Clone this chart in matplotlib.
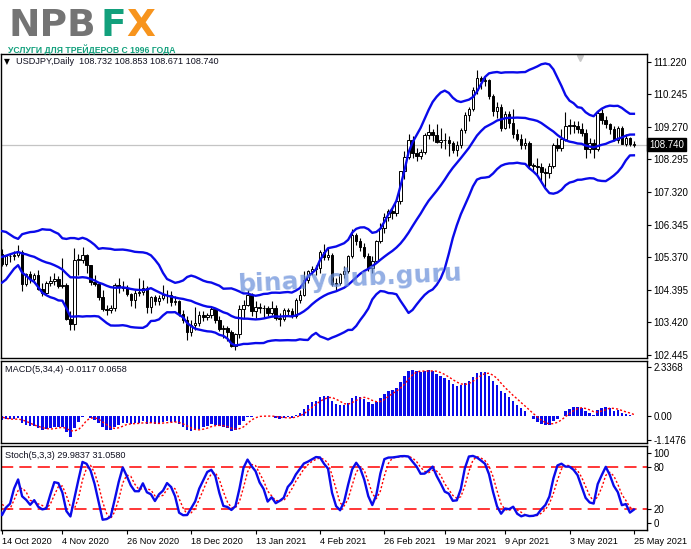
import numpy as np
import pandas as pd
import matplotlib
matplotlib.use('Agg')
import matplotlib.pyplot as plt

plt.rcParams['font.family'] = ['Liberation Sans', 'DejaVu Sans']

# USDJPY daily bars. The first 31 (1 Sep - 13 Oct 2020) lie left of the
# visible window and only warm up the indicators.
n_hidden = 31

opens = [
    # Sep / early Oct 2020 (hidden)
    105.90, 105.97, 106.18, 106.17, 106.24, 106.27, 106.00, 106.08, 106.15, 106.15, 105.74,
    105.43, 104.93, 104.73, 104.55, 104.68, 104.93, 105.39, 105.41, 105.58, 105.48, 105.69,
    105.46, 105.53, 105.31, 105.72, 105.67, 105.97, 105.95, 105.61, 105.31,
    # Oct
    105.48, 105.16, 105.42, 105.40, 105.45, 105.52, 104.56, 104.86, 104.72, 104.84, 104.43, 104.30, 104.61,
    # Nov
    104.66, 104.73, 104.52, 104.53, 103.52, 103.36, 105.30, 105.30, 105.43, 105.13, 104.62,
    104.57, 104.18, 103.81, 103.78, 103.86, 104.53, 104.47, 104.45, 104.26, 104.08,
    # Dec
    104.30, 104.34, 104.44, 103.87, 104.17, 104.05, 104.15, 104.24, 104.25, 104.02, 104.05,
    103.66, 103.48, 103.13, 103.35, 103.40, 103.63, 103.58, 103.65, 103.81, 103.50, 103.22,
    # Jan 2021
    103.24, 103.12, 102.71, 103.07, 103.82, 103.94, 104.25, 103.75, 103.88, 103.84,
    103.86, 103.70, 103.86, 103.55, 103.51, 103.78, 103.77, 103.60, 104.09, 104.25,
    # Feb
    104.68, 104.95, 105.02, 105.04, 105.53, 105.38, 105.45, 104.57, 104.59, 104.87,
    104.95, 105.42, 106.03, 105.85, 105.69, 105.42, 105.05, 105.25, 105.86, 106.24,
    # Mar
    106.57, 106.75, 106.69, 107.04, 107.95, 108.38, 108.89, 108.50, 108.39, 108.51, 109.02, 109.13,
    109.04, 108.81, 108.87, 108.88, 108.79, 108.57, 108.73, 109.19, 109.63, 109.80, 110.37,
    # Apr
    110.72, 110.63, 110.68, 110.20, 109.75, 109.86, 109.25, 109.65, 109.39, 109.07, 108.92,
    108.73, 108.80, 108.13, 108.10, 108.08, 107.93, 107.89, 108.10, 108.72, 108.63, 108.91,
    # May
    109.31, 109.34, 109.31, 109.20, 109.08, 108.60, 108.78, 108.60, 109.67,
    109.48, 109.35, 109.21, 108.89, 109.23, 108.77, 108.94, 108.732,
]
highs = [
    106.05, 106.25, 106.55, 106.50, 106.38, 106.37, 106.20, 106.23, 106.20, 106.18, 105.85,
    105.50, 105.00, 104.88, 104.72, 105.00, 105.48, 105.55, 105.70, 105.70, 105.80, 105.80,
    105.70, 105.68, 105.80, 105.80, 106.05, 106.11, 106.00, 105.65, 105.52,
    105.62, 105.45, 105.50, 105.55, 105.75, 105.60, 104.90, 104.95, 104.90, 105.00, 104.60, 104.65, 104.80,
    104.90, 104.80, 105.35, 104.60, 103.75, 105.65, 105.48, 105.68, 105.48, 105.15, 104.85,
    104.60, 104.40, 103.95, 103.93, 104.60, 104.75, 104.65, 104.55, 104.30, 104.40,
    104.75, 104.70, 104.50, 104.20, 104.25, 104.25, 104.55, 104.40, 104.35, 104.20, 104.10,
    103.80, 103.60, 103.50, 103.88, 103.75, 103.75, 103.70, 103.90, 103.85, 103.60, 103.35,
    103.30, 103.20, 103.10, 103.95, 104.10, 104.40, 104.30, 104.05, 104.00, 103.95,
    103.90, 104.05, 103.95, 103.70, 103.85, 103.85, 103.85, 104.15, 104.40, 104.95,
    105.00, 105.10, 105.15, 105.60, 105.77, 105.65, 105.50, 104.75, 104.90, 105.10,
    105.45, 106.22, 106.10, 105.95, 105.80, 105.50, 105.40, 105.90, 106.40, 106.70,
    106.80, 106.85, 107.10, 107.95, 108.55, 109.05, 109.00, 108.65, 108.60, 109.08, 109.35, 109.20,
    109.35, 109.25, 109.10, 109.00, 108.85, 108.85, 109.25, 109.70, 109.85, 110.45, 110.97,
    110.80, 110.75, 110.70, 110.25, 110.00, 109.95, 109.75, 109.75, 109.80, 109.20, 109.05,
    108.95, 108.85, 108.20, 108.35, 108.20, 108.05, 108.20, 108.80, 108.95, 109.20, 109.70,
    109.50, 109.45, 109.45, 109.40, 109.20, 108.95, 108.90, 109.75, 109.80,
    109.60, 109.40, 109.30, 109.30, 109.30, 109.05, 108.98, 108.853,
]
lows = [
    105.60, 105.85, 106.05, 106.05, 106.16, 105.90, 105.90, 105.95, 106.03, 105.70, 105.35,
    104.85, 104.52, 104.50, 104.00, 104.60, 104.85, 105.20, 105.30, 105.30, 105.40, 105.40,
    105.35, 104.94, 105.25, 105.50, 105.55, 105.87, 105.55, 105.30, 105.25,
    105.10, 105.10, 105.22, 105.30, 105.38, 104.35, 104.50, 104.60, 104.60, 104.40, 104.20, 104.25, 104.50,
    104.55, 104.45, 104.45, 103.50, 103.18, 103.20, 104.85, 105.20, 104.90, 104.55, 104.50,
    104.10, 103.75, 103.65, 103.70, 103.75, 104.30, 104.35, 104.20, 103.90, 103.85,
    104.20, 104.25, 103.70, 103.70, 103.95, 103.95, 104.10, 104.00, 103.90, 103.95, 103.60,
    103.40, 102.88, 103.00, 103.20, 103.30, 103.45, 103.50, 103.55, 103.40, 103.15, 102.95,
    102.85, 102.68, 102.59, 102.95, 103.55, 103.90, 103.60, 103.55, 103.70, 103.55,
    103.60, 103.65, 103.50, 103.30, 103.45, 103.60, 103.55, 103.55, 104.00, 104.20,
    104.60, 104.85, 104.85, 104.90, 105.30, 105.30, 104.50, 104.40, 104.55, 104.75,
    104.90, 105.35, 105.75, 105.55, 105.35, 104.95, 104.90, 105.20, 105.80, 106.10,
    106.45, 106.50, 106.60, 106.95, 107.70, 108.30, 108.35, 108.25, 108.30, 108.45, 108.90, 108.85,
    108.80, 108.65, 108.60, 108.40, 108.50, 108.40, 108.65, 109.10, 109.45, 109.75, 110.25,
    110.40, 110.50, 110.10, 109.60, 109.55, 109.15, 109.20, 109.25, 108.95, 108.85, 108.60,
    108.60, 108.05, 107.95, 107.80, 107.60, 107.48, 107.75, 108.05, 108.55, 108.55, 108.85,
    109.05, 109.10, 109.10, 109.00, 108.35, 108.50, 108.35, 108.55, 109.35,
    109.25, 109.05, 108.85, 108.80, 108.75, 108.70, 108.70, 108.671,
]
closes = [
    105.97, 106.18, 106.17, 106.24, 106.27, 106.00, 106.08, 106.15, 106.15, 105.74, 105.43,
    104.93, 104.73, 104.55, 104.68, 104.93, 105.39, 105.41, 105.58, 105.48, 105.69, 105.46,
    105.53, 105.31, 105.72, 105.67, 105.97, 105.95, 105.61, 105.31, 105.48,
    105.16, 105.42, 105.40, 105.45, 105.52, 104.56, 104.86, 104.72, 104.84, 104.43, 104.30, 104.61, 104.66,
    104.73, 104.52, 104.53, 103.52, 103.36, 105.30, 105.30, 105.43, 105.13, 104.62, 104.57,
    104.18, 103.81, 103.78, 103.86, 104.53, 104.47, 104.45, 104.26, 104.08, 104.30,
    104.34, 104.44, 103.87, 104.17, 104.05, 104.15, 104.24, 104.25, 104.02, 104.05, 103.66,
    103.48, 103.13, 103.35, 103.40, 103.63, 103.58, 103.65, 103.81, 103.50, 103.22, 103.24,
    103.12, 102.71, 103.07, 103.82, 103.94, 104.25, 103.75, 103.88, 103.84, 103.86,
    103.70, 103.86, 103.55, 103.51, 103.78, 103.77, 103.60, 104.09, 104.25, 104.68,
    104.95, 105.02, 105.04, 105.53, 105.38, 105.45, 104.57, 104.59, 104.87, 104.95,
    105.42, 106.03, 105.85, 105.69, 105.42, 105.05, 105.25, 105.86, 106.24, 106.57,
    106.75, 106.69, 107.04, 107.95, 108.38, 108.89, 108.50, 108.39, 108.51, 109.02, 109.13, 109.04,
    108.81, 108.87, 108.88, 108.79, 108.57, 108.73, 109.19, 109.63, 109.80, 110.37, 110.72,
    110.63, 110.68, 110.20, 109.75, 109.86, 109.25, 109.65, 109.39, 109.07, 108.92, 108.73,
    108.80, 108.13, 108.10, 108.08, 107.93, 107.89, 108.10, 108.72, 108.63, 108.91, 109.31,
    109.34, 109.31, 109.20, 109.08, 108.60, 108.78, 108.60, 109.67, 109.48,
    109.35, 109.21, 108.89, 109.23, 108.77, 108.94, 108.76, 108.740,
]

date_labels = ['14 Oct 2020', '4 Nov 2020', '26 Nov 2020', '18 Dec 2020', '13 Jan 2021',
               '4 Feb 2021', '26 Feb 2021', '19 Mar 2021', '9 Apr 2021', '3 May 2021', '25 May 2021']
date_idx = [0, 15, 31, 47, 63, 79, 95, 110, 125, 141, 157]
price_ticks = [111.220, 110.245, 109.270, 108.295, 107.320, 106.345, 105.370, 104.395, 103.420, 102.445]
macd_ticks = [2.3368, 0.0, -1.1476]
stoch_ticks = [100, 80, 20, 0]
stoch_levels = [80, 20]
last_price = 108.740

df = pd.DataFrame({'open': opens, 'high': highs, 'low': lows, 'close': closes})
df['x'] = np.arange(len(df)) - n_hidden

# Bollinger(20, 2)
mid = df['close'].rolling(20).mean()
sd = df['close'].rolling(20).std(ddof=0)
upper = mid + 2 * sd
lower = mid - 2 * sd

# MACD(5,34,4): main line as histogram, SMA signal
ema_fast = df['close'].ewm(span=5, adjust=False).mean()
ema_slow = df['close'].ewm(span=34, adjust=False).mean()
macd = ema_fast - ema_slow
signal = macd.rolling(4).mean()

# Stochastic(5,3,3)
ll = df['low'].rolling(5).min()
hh = df['high'].rolling(5).max()
k = (df['close'] - ll).rolling(3).sum() / (hh - ll).rolling(3).sum() * 100
d = k.rolling(3).mean()

W, H = 691, 549
fig = plt.figure(figsize=(W / 100, H / 100), dpi=100)


def box(top, bottom, left=1, right=647):
    return [left / W, 1 - bottom / H, (right - left) / W, (bottom - top) / H]


ax = fig.add_axes(box(54, 358))
ax_macd = fig.add_axes(box(361, 443), sharex=ax)
ax_st = fig.add_axes(box(446, 530), sharex=ax)

blue = '#0a0aea'

# candles
up = df['close'] >= df['open']
ax.vlines(df['x'], df['low'], df['high'], color='black', lw=0.8, zorder=2)
body = (df['close'] - df['open']).abs().clip(lower=0.012)
bottom = df[['open', 'close']].min(axis=1)
ax.bar(df['x'], body, bottom=bottom, width=0.62,
       color=np.where(up, 'white', 'black'), edgecolor='black', linewidth=0.7, zorder=3)

for band in (upper, mid, lower):
    ax.plot(df['x'], band, color=blue, lw=1.7, zorder=4)

ax.axhline(last_price, color='#c4c4c4', lw=0.9, zorder=1)
ax.set_ylim(102.355, 111.45)
ax.set_yticks(price_ticks)
ax.set_yticklabels([f'{t:.3f}' for t in price_ticks])
ax.text(1.003, last_price, f'{last_price:.3f}', transform=ax.get_yaxis_transform(),
        color='white', fontsize=7, va='center', ha='left',
        bbox=dict(boxstyle='square,pad=0.18', fc='black', ec='black'))
ax.plot([0.896], [0.988], marker='v', color='#c8c8c8', ms=5,
        transform=ax.transAxes, clip_on=False)

# MACD
ax_macd.bar(df['x'], macd, width=0.62, color=blue, zorder=2)
ax_macd.plot(df['x'], signal, color='red', lw=1.0, ls=(0, (1.5, 1.5)), zorder=3)
ax_macd.set_ylim(-1.288, 2.623)
ax_macd.set_yticks(macd_ticks)
ax_macd.set_yticklabels(['2.3368', '0.00', '-1.1476'])

# Stochastic
for lv in stoch_levels:
    ax_st.axhline(lv, color='red', lw=1.1, ls=(0, (8, 4)), zorder=1)
ax_st.plot(df['x'], k, color=blue, lw=1.7, zorder=3)
ax_st.plot(df['x'], d, color='red', lw=1.0, ls=(0, (1.5, 1.5)), zorder=2)
ax_st.set_ylim(-10, 110)
ax_st.set_yticks(stoch_ticks)

ax.set_xlim(-0.25, 160.25)
ax_st.set_xticks(date_idx)
ax_st.set_xticklabels(date_labels, ha='left')
ax_st.tick_params(axis='x', length=3, pad=2, labelsize=6.6)
for a in (ax, ax_macd):
    a.tick_params(axis='x', bottom=False, labelbottom=False)

for a in (ax, ax_macd, ax_st):
    a.yaxis.tick_right()
    a.tick_params(axis='y', length=3, pad=1.5, labelsize=7, direction='out')
    for s in a.spines.values():
        s.set_linewidth(1.0)
        s.set_color('black')

# panel captions
fig.text(4 / W, 1 - 62 / H, '\u25bc', fontsize=5.5, family='DejaVu Sans', va='center')
fig.text(16 / W, 1 - 62 / H, 'USDJPY,Daily  108.732 108.853 108.671 108.740',
         fontsize=6.6, va='center', color='#101020')
fig.text(5 / W, 1 - 369 / H, 'MACD(5,34,4) -0.0117 0.0658', fontsize=6.6, va='center', color='#101020')
fig.text(5 / W, 1 - 455 / H, 'Stoch(5,3,3) 29.9837 31.0580', fontsize=6.6, va='center', color='#101020')

# logo
green = '#12a07c'
fig.text(8 / W, 1 - 36 / H, 'NPB', color='#747474', fontsize=27, fontweight='bold',
         family='DejaVu Sans', va='baseline')
fig.text(100 / W, 1 - 36 / H, 'F', color=green, fontsize=27, fontweight='bold',
         family='DejaVu Sans', va='baseline')
fig.text(126 / W, 1 - 36 / H, 'X', color='#f7941d', fontsize=27, fontweight='bold',
         family='DejaVu Sans', va='baseline')
fig.text(8 / W, 1 - 53 / H, 'УСЛУГИ ДЛЯ ТРЕЙДЕРОВ С 1996 ГОДА', color=green, fontsize=6.2,
         fontweight='bold', family='Liberation Sans', va='baseline')

# watermark
fig.text(350 / W, 1 - 279 / H, 'binaryclub.guru', color='#6a90da', alpha=0.72, fontsize=18,
         fontweight='bold', family='DejaVu Sans', rotation=3, ha='center', va='center', zorder=10)

fig.savefig('out.png', dpi=100)
